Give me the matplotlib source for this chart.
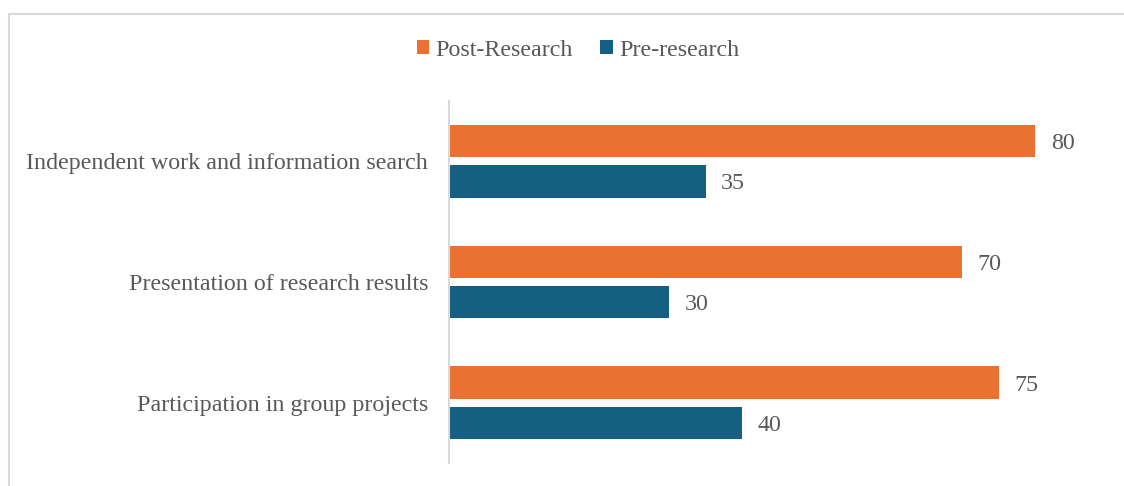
import matplotlib.pyplot as plt
from matplotlib.patches import Rectangle
import numpy as np

# data
categories = ['Independent work and information search',
              'Presentation of research results',
              'Participation in group projects']
post_research = [80, 70, 75]
pre_research = [35, 30, 40]
series_names = ['Post-Research', 'Pre-research']
colors = ['#E97132', '#156082']

plt.rcParams['font.family'] = ['Liberation Serif', 'DejaVu Serif']
text_color = '#595959'
fs = 17.3

fig = plt.figure(figsize=(11.24, 4.86), dpi=100)
W, H = 1124, 486
# chart border (cropped at right/bottom)
fig.patches.append(Rectangle((9 / W, -0.05), 1.2, (486 - 14) / H + 0.05,
                             transform=fig.transFigure, fill=False,
                             edgecolor='#d9d9d9', lw=1.5))

ax = fig.add_axes([449 / W, (486 - 463) / H, (1115 - 449) / W, (463 - 101) / H])
y = np.arange(len(categories))
h = 0.27
off = 0.167
b1 = ax.barh(y - off, post_research, height=h, color=colors[0], label=series_names[0])
b2 = ax.barh(y + off, pre_research, height=h, color=colors[1], label=series_names[1])
ax.set_ylim(2.5, -0.5)
ax.set_xlim(0, (1115 - 449) / 7.33)

for bars, vals in ((b1, post_research), (b2, pre_research)):
    for bar, v in zip(bars, vals):
        ax.text(v + 2.1, bar.get_y() + bar.get_height() / 2, str(v),
                va='center_baseline', ha='left', fontsize=fs, color=text_color)

ax.set_yticks(y)
ax.set_yticklabels(categories, fontsize=fs, color=text_color)
ax.tick_params(axis='y', length=0, pad=15)
ax.set_xticks([])
for s in ['top', 'right', 'bottom']:
    ax.spines[s].set_visible(False)
ax.spines['left'].set_color('#d9d9d9')
ax.spines['left'].set_linewidth(1.5)

fig.legend(handles=[b1, b2], labels=series_names, loc='center',
           bbox_to_anchor=(578 / W, 1 - 50 / H), ncol=2, frameon=False,
           fontsize=fs, labelcolor=text_color, handlelength=0.52,
           handleheight=0.52, handletextpad=0.25, columnspacing=1.15)

fig.savefig('out.png', dpi=100)
